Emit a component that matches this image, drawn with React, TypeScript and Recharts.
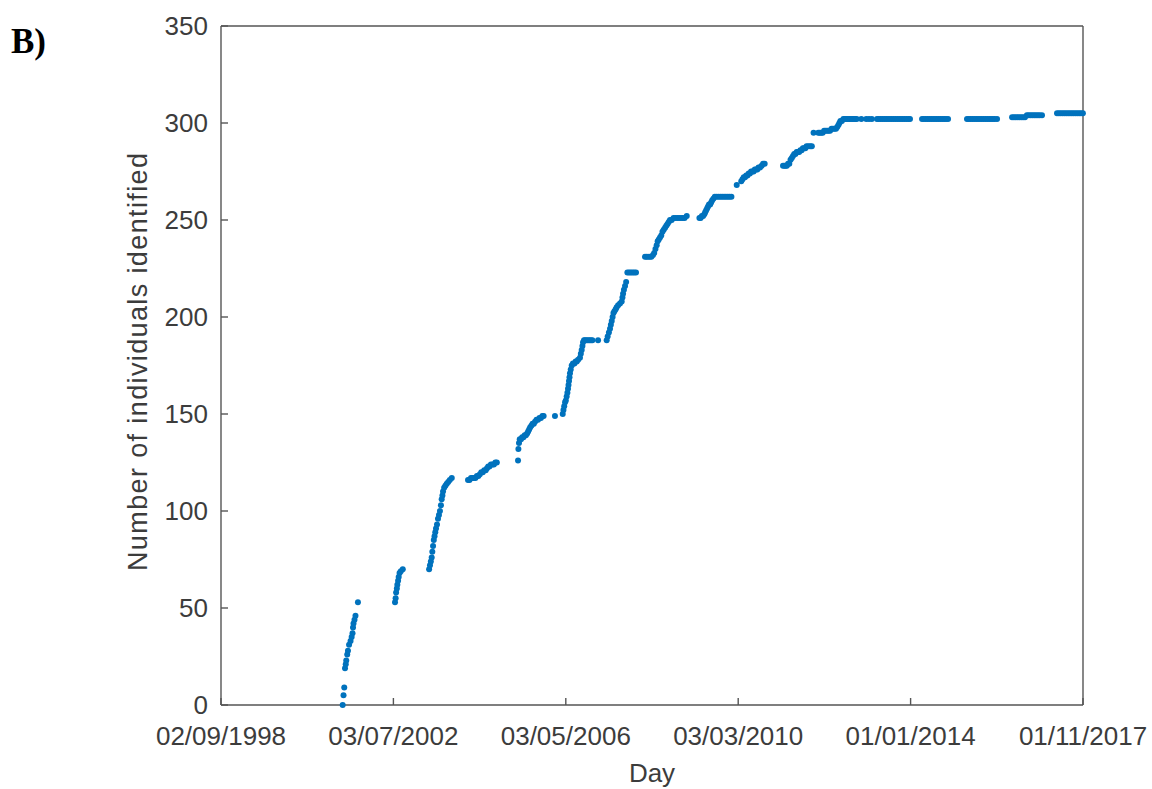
import React from "react";
import { ScatterChart, Scatter, XAxis, YAxis } from "recharts";

// x is days since 02/09/1998, ticks every 1400 days
const xTicks = [0, 1400, 2800, 4200, 5600, 7000];
const xTickLabels = [
  "02/09/1998",
  "03/07/2002",
  "03/05/2006",
  "03/03/2010",
  "01/01/2014",
  "01/11/2017",
];
const yTicks = [0, 50, 100, 150, 200, 250, 300, 350];

// [day, cumulative individuals identified]
const season2001 = [
  [988, 0], [995, 5], [1001, 9], [1007, 19], [1013, 21], [1017, 23],
  [1025, 26], [1031, 28], [1040, 31], [1052, 33], [1061, 35], [1068, 37],
  [1072, 40], [1076, 42], [1084, 44], [1092, 46], [1112, 53],
];
const season2002 = [
  [1413, 53], [1418, 55], [1422, 58], [1428, 60], [1432, 62], [1438, 64],
  [1443, 66], [1450, 68], [1460, 69], [1476, 70],
];
const season2003 = [
  [1690, 70], [1697, 72], [1704, 74], [1711, 76], [1716, 79], [1722, 82],
  [1728, 85], [1734, 87], [1740, 89], [1746, 91], [1754, 93], [1762, 96],
  [1770, 98], [1778, 100], [1786, 103], [1792, 106], [1798, 108], [1803, 110],
  [1812, 112], [1822, 113], [1833, 114], [1845, 115], [1858, 116], [1874, 117],
];
const season2004 = [
  [2006, 116], [2018, 116], [2030, 117], [2042, 117], [2054, 117], [2066, 117],
  [2078, 118], [2090, 118], [2102, 119], [2114, 120], [2126, 120], [2138, 121],
  [2150, 121], [2160, 122], [2170, 123], [2180, 123], [2192, 124], [2204, 124],
  [2216, 124], [2228, 125], [2240, 125],
];
const season2005 = [
  [2412, 126], [2415, 132], [2420, 135], [2426, 137], [2436, 137], [2446, 138],
  [2456, 138], [2466, 139], [2476, 139], [2486, 140], [2494, 141], [2502, 142],
  [2510, 143], [2520, 144], [2530, 145], [2540, 145], [2550, 146], [2562, 147],
  [2574, 147], [2586, 148], [2598, 148], [2610, 149], [2620, 149], [2712, 149],
];
const season2006 = [
  [2775, 150], [2781, 152], [2787, 154], [2794, 156], [2800, 157], [2807, 159],
  [2813, 161], [2818, 163], [2822, 165], [2826, 167], [2830, 169], [2834, 171],
  [2840, 173], [2848, 175], [2858, 176], [2870, 176], [2880, 177], [2889, 177],
  [2900, 178], [2915, 179], [2922, 181], [2929, 183], [2935, 185], [2940, 187],
  [2948, 188], [2956, 188], [2968, 188], [2980, 188], [2992, 188], [3004, 188],
  [3016, 188], [3062, 188], [3132, 188],
];
const season2007 = [
  [3140, 190], [3150, 192], [3159, 194], [3166, 196], [3173, 198], [3180, 200],
  [3187, 202], [3195, 203], [3205, 204], [3213, 205], [3225, 206], [3240, 207],
  [3254, 208], [3260, 210], [3265, 212], [3272, 214], [3281, 216], [3290, 218],
  [3300, 223], [3314, 223], [3328, 223], [3342, 223], [3356, 223], [3370, 223],
];
const season2008 = [
  [3443, 231], [3455, 231], [3468, 231], [3482, 231], [3495, 231], [3508, 232],
  [3518, 233], [3528, 235], [3538, 237], [3546, 239], [3555, 240], [3565, 241],
  [3575, 242], [3585, 244], [3595, 245], [3606, 246], [3616, 247], [3626, 248],
  [3636, 249], [3646, 250], [3660, 250], [3675, 251], [3690, 251], [3705, 251],
  [3720, 251], [3735, 251], [3750, 251], [3765, 251], [3782, 252],
];
const season2009 = [
  [3885, 251], [3895, 251], [3905, 252], [3915, 252], [3925, 253], [3932, 254],
  [3940, 255], [3948, 256], [3955, 257], [3963, 258], [3972, 258], [3980, 259],
  [3988, 260], [3998, 261], [4010, 262], [4025, 262], [4040, 262], [4055, 262],
  [4070, 262], [4085, 262], [4100, 262], [4115, 262], [4130, 262], [4145, 262],
];
const season2010 = [
  [4188, 268], [4225, 270], [4235, 271], [4245, 272], [4255, 272], [4265, 273],
  [4275, 273], [4285, 274], [4295, 274], [4305, 275], [4315, 275], [4325, 275],
  [4335, 276], [4345, 276], [4355, 276], [4365, 277], [4377, 277], [4390, 278],
  [4402, 279], [4415, 279],
];
const season2011 = [
  [4564, 278], [4575, 278], [4585, 278], [4595, 278], [4605, 279], [4615, 279],
  [4625, 281], [4635, 282], [4645, 283], [4655, 284], [4665, 284], [4675, 285],
  [4685, 285], [4695, 285], [4705, 286], [4715, 286], [4725, 287], [4735, 287],
  [4745, 287], [4755, 288], [4770, 288], [4785, 288], [4798, 288],
];
const season2012 = [
  [4812, 295], [4850, 295], [4862, 295], [4874, 295], [4886, 295], [4898, 296],
  [4910, 296], [4922, 296], [4934, 296], [4946, 296], [4958, 297], [4970, 297],
  [4982, 297], [4994, 297], [5004, 298], [5014, 299], [5022, 300], [5030, 301],
  [5042, 301], [5054, 302], [5066, 302], [5078, 302], [5090, 302], [5102, 302],
  [5114, 302], [5126, 302], [5138, 302], [5150, 302], [5162, 302], [5200, 302],
  [5240, 302], [5262, 302], [5285, 302],
];
const season2013 = [
  [5327, 302], [5342, 302], [5357, 302], [5372, 302], [5387, 302], [5402, 302],
  [5417, 302], [5432, 302], [5447, 302], [5462, 302], [5477, 302], [5492, 302],
  [5507, 302], [5522, 302], [5537, 302], [5552, 302], [5567, 302], [5582, 302],
  [5595, 302],
];
const season2014 = [
  [5693, 302], [5708, 302], [5723, 302], [5738, 302], [5753, 302], [5768, 302],
  [5783, 302], [5798, 302], [5813, 302], [5828, 302], [5843, 302], [5858, 302],
  [5873, 302], [5888, 302], [5904, 302],
];
const season2015 = [
  [6058, 302], [6073, 302], [6088, 302], [6103, 302], [6118, 302], [6133, 302],
  [6148, 302], [6163, 302], [6178, 302], [6193, 302], [6208, 302], [6223, 302],
  [6238, 302], [6253, 302], [6268, 302], [6283, 302], [6302, 302],
];
const season2016 = [
  [6424, 303], [6439, 303], [6454, 303], [6469, 303], [6484, 303], [6499, 303],
  [6514, 303], [6529, 303], [6544, 304], [6559, 304], [6574, 304], [6589, 304],
  [6604, 304], [6619, 304], [6634, 304], [6649, 304], [6667, 304],
];
const season2017 = [
  [6789, 305], [6804, 305], [6819, 305], [6834, 305], [6849, 305], [6864, 305],
  [6879, 305], [6894, 305], [6909, 305], [6924, 305], [6939, 305], [6954, 305],
  [6969, 305], [6984, 305], [6999, 305],
];

const seasons = [
  season2001, season2002, season2003, season2004, season2005, season2006,
  season2007, season2008, season2009, season2010, season2011, season2012,
  season2013, season2014, season2015, season2016, season2017,
];

const data = seasons.flat().map(([day, count]) => ({ day, count }));

const FONT = "'Liberation Sans', Arial, Helvetica, sans-serif";
const AXIS = "#555555";
const TEXT = "#3c3c3c";
const DOT = "#0072bd";

const tickStyle = { fontSize: 26, fill: TEXT, fontFamily: FONT };

function Dot(props: any) {
  if (props.cx == null || props.cy == null) return null;
  return <circle cx={props.cx} cy={props.cy} r={3} fill={DOT} />;
}

export default function App() {
  return (
    <div
      style={{
        position: "absolute",
        left: 0,
        top: 0,
        width: 1152,
        height: 789,
        background: "#fff",
      }}
    >
      <ScatterChart
        width={1152}
        height={789}
        margin={{ top: 25, right: 68, bottom: 0, left: 0 }}
      >
        <XAxis
          xAxisId="bottom"
          dataKey="day"
          type="number"
          domain={[0, 7000]}
          ticks={xTicks}
          tickFormatter={(v: number) => xTickLabels[xTicks.indexOf(v)] ?? ""}
          height={84}
          tickSize={-7}
          tickMargin={29}
          stroke={AXIS}
          strokeWidth={1.4}
          tick={tickStyle}
          interval={0}
          label={{
            value: "Day",
            position: "insideBottom",
            offset: 7,
            style: { fontSize: 26, fill: TEXT, fontFamily: FONT },
          }}
        />
        <XAxis
          xAxisId="top"
          orientation="top"
          dataKey="day"
          type="number"
          domain={[0, 7000]}
          ticks={xTicks}
          tickFormatter={() => ""}
          height={1}
          tickSize={-7}
          stroke={AXIS}
          strokeWidth={1.4}
        />
        <YAxis
          yAxisId="left"
          dataKey="count"
          type="number"
          domain={[0, 350]}
          ticks={yTicks}
          width={221}
          tickSize={-7}
          tickMargin={20}
          stroke={AXIS}
          strokeWidth={1.4}
          tick={tickStyle}
          interval={0}
        />
        <YAxis
          yAxisId="right"
          orientation="right"
          dataKey="count"
          type="number"
          domain={[0, 350]}
          ticks={yTicks}
          tickFormatter={() => ""}
          width={1}
          tickSize={-7}
          stroke={AXIS}
          strokeWidth={1.4}
        />
        <Scatter
          data={data}
          xAxisId="bottom"
          yAxisId="left"
          shape={Dot}
          isAnimationActive={false}
        />
      </ScatterChart>
      <svg
        width={1152}
        height={789}
        style={{ position: "absolute", left: 0, top: 0, pointerEvents: "none" }}
      >
        <text
          x={11}
          y={53}
          fontSize={35}
          fontWeight="bold"
          fontFamily="'Liberation Serif', 'Times New Roman', serif"
          fill="#000"
        >
          B)
        </text>
        <text
          transform="translate(147, 362) rotate(-90)"
          textAnchor="middle"
          fontSize={27}
          fontFamily={FONT}
          fill={TEXT}
          textLength={418}
          lengthAdjust="spacing"
        >
          Number of individuals identified
        </text>
      </svg>
    </div>
  );
}
